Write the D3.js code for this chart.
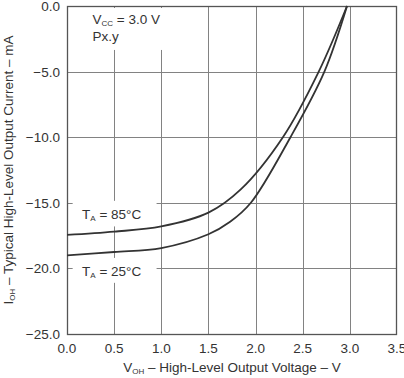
<!DOCTYPE html>
<html>
<head>
<meta charset="utf-8">
<script src="https://cdn.jsdelivr.net/npm/d3@7"></script>
<style>
  body { margin: 0; background: #fff; }
  text { font-family: "Liberation Sans", Arial, sans-serif; fill: #333; }
</style>
</head>
<body>
<div id="chart"></div>
<script>
// curve readings (V, mA)
const volts85 = [0, 0.5, 1.0, 1.5, 1.84, 2.29, 2.67, 2.97];
const ioh85 = [-17.45, -17.2, -16.8, -15.75, -14.0, -10.0, -5.0, 0];
const volts25 = [0, 0.5, 1.0, 1.5, 1.73, 1.95, 2.37, 2.73, 2.97];
const ioh25 = [-19.0, -18.75, -18.45, -17.4, -16.45, -15.0, -10.0, -5.0, 0];

const xTicks = [0, 0.5, 1.0, 1.5, 2.0, 2.5, 3.0, 3.5];
const yTicks = [0, -5, -10, -15, -20, -25];

const width = 404, height = 378;
const margin = {top: 6, right: 7, bottom: 44, left: 67};

const svg = d3.select("#chart").append("svg")
    .attr("width", width)
    .attr("height", height);

const x = d3.scaleLinear().domain([0, 3.5]).range([margin.left, width - margin.right]);
const y = d3.scaleLinear().domain([-25, 0]).range([height - margin.bottom, margin.top]);

// grid
svg.append("g")
  .selectAll("line")
  .data(xTicks.slice(1, -1))
  .join("line")
    .attr("x1", d => Math.round(x(d)) + 0.5).attr("x2", d => Math.round(x(d)) + 0.5)
    .attr("y1", y(0)).attr("y2", y(-25))
    .attr("stroke", "#828282").attr("stroke-width", 1);

svg.append("g")
  .selectAll("line")
  .data(yTicks.slice(1, -1))
  .join("line")
    .attr("y1", d => Math.round(y(d)) + 0.5).attr("y2", d => Math.round(y(d)) + 0.5)
    .attr("x1", x(0)).attr("x2", x(3.5))
    .attr("stroke", "#828282").attr("stroke-width", 1);

// white label boxes over the grid
const boxes = [
  {x0: 0.11, x1: 1.15, y0: -0.15, y1: -3.35},
  {x0: 0.06, x1: 0.95, y0: -14.85, y1: -16.8},
  {x0: 0.06, x1: 0.95, y0: -19.2, y1: -21.1}
];
svg.append("g")
  .selectAll("rect")
  .data(boxes)
  .join("rect")
    .attr("x", d => x(d.x0))
    .attr("y", d => y(d.y0))
    .attr("width", d => x(d.x1) - x(d.x0))
    .attr("height", d => y(d.y1) - y(d.y0))
    .attr("fill", "#fff");

// frame
svg.append("rect")
  .attr("x", x(0) + 0.5).attr("y", y(0) + 0.5)
  .attr("width", x(3.5) - x(0) - 1).attr("height", y(-25) - y(0))
  .attr("fill", "none")
  .attr("stroke", "#555")
  .attr("stroke-width", 1.3);

// curves
const line = d3.line()
  .x(d => x(d[0]))
  .y(d => y(d[1]))
  .curve(d3.curveCatmullRom.alpha(0.5));

const series = [d3.zip(volts85, ioh85), d3.zip(volts25, ioh25)];
svg.append("g")
  .selectAll("path")
  .data(series)
  .join("path")
    .attr("d", line)
    .attr("fill", "none")
    .attr("stroke", "#333")
    .attr("stroke-width", 1.8);

// tick labels
const fmt = d => (d < 0 ? "\u2212" : "") + Math.abs(d).toFixed(1);
svg.append("g")
  .selectAll("text")
  .data(xTicks)
  .join("text")
    .attr("x", d => x(d))
    .attr("y", y(-25) + 19)
    .attr("text-anchor", "middle")
    .attr("font-size", 13.5)
    .text(fmt);

svg.append("g")
  .selectAll("text")
  .data(yTicks)
  .join("text")
    .attr("x", x(0) - 7)
    .attr("y", d => y(d) + 5)
    .attr("text-anchor", "end")
    .attr("font-size", 13.5)
    .text(fmt);

// axis titles
const xt = svg.append("text")
  .attr("x", 232).attr("y", 372)
  .attr("text-anchor", "middle")
  .attr("font-size", 13.5);
xt.append("tspan").text("V");
xt.append("tspan").attr("font-size", 8).attr("dy", 2).text("OH");
xt.append("tspan").attr("dy", -2).text(" \u2013 High-Level Output Voltage \u2013 V");

const yt = svg.append("text")
  .attr("transform", `translate(13,${170}) rotate(-90)`)
  .attr("text-anchor", "middle")
  .attr("font-size", 13.5);
yt.append("tspan").text("I");
yt.append("tspan").attr("font-size", 8).attr("dy", 2).text("OH");
yt.append("tspan").attr("dy", -2).text(" \u2013 Typical High-Level Output Current \u2013 mA");

// annotations
function subLabel(px, py, main, sub, rest) {
  const t = svg.append("text").attr("x", px).attr("y", py).attr("font-size", 13.5);
  t.append("tspan").text(main);
  t.append("tspan").attr("font-size", 8).attr("dy", 2).text(sub);
  t.append("tspan").attr("dy", -2).text(rest);
}
subLabel(x(0.27), y(-1.35), "V", "CC", " = 3.0 V");
svg.append("text").attr("x", x(0.27)).attr("y", y(-2.65)).attr("font-size", 13.5).text("Px.y");
subLabel(x(0.16), y(-16.2), "T", "A", " = 85\u00B0C");
subLabel(x(0.16), y(-20.55), "T", "A", " = 25\u00B0C");
</script>
</body>
</html>
